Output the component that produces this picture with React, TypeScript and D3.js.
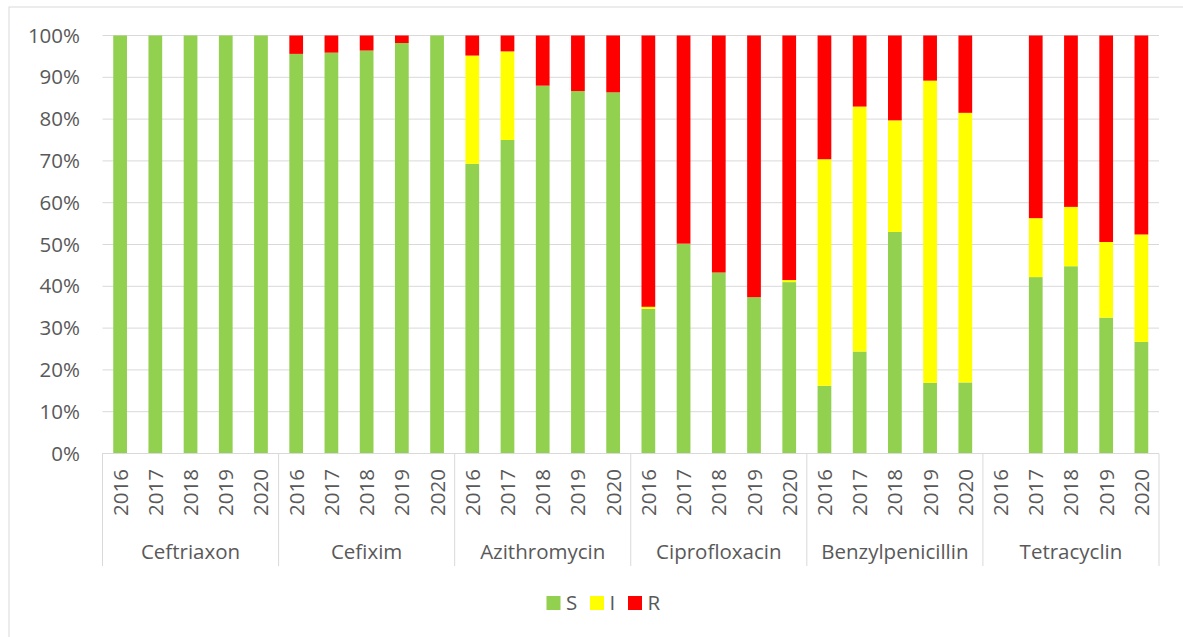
import React from 'react';
import * as d3 from 'd3';

const antibiotics = ['Ceftriaxon', 'Cefixim', 'Azithromycin', 'Ciprofloxacin', 'Benzylpenicillin', 'Tetracyclin'];
const years = ['2016', '2017', '2018', '2019', '2020'];

// per antibiotic, per year (%), order follows years
const sValues = [
  [100, 100, 100, 100, 100],
  [95.6, 95.9, 96.4, 98.2, 100],
  [69.3, 75.0, 88.0, 86.7, 86.4],
  [34.6, 50.2, 43.3, 37.4, 41.0],
  [16.2, 24.4, 53.0, 16.9, 17.0],
  [0, 42.2, 44.8, 32.5, 26.7],
];
const iValues = [
  [0, 0, 0, 0, 0],
  [0, 0, 0, 0, 0],
  [25.9, 21.2, 0, 0, 0],
  [0.5, 0, 0, 0, 0.5],
  [54.2, 58.6, 26.7, 72.3, 64.5],
  [0, 14.1, 14.2, 18.1, 25.7],
];
const rValues = [
  [0, 0, 0, 0, 0],
  [4.4, 4.1, 3.6, 1.8, 0],
  [4.8, 3.8, 12.0, 13.3, 13.6],
  [64.9, 49.8, 56.7, 62.6, 58.5],
  [29.6, 17.0, 20.3, 10.8, 18.5],
  [0, 43.7, 41.0, 49.4, 47.6],
];
const seriesNames = ['S', 'I', 'R'];
const seriesColors = ['#92D050', '#FFFF00', '#FF0000'];
const yTicks = [0, 10, 20, 30, 40, 50, 60, 70, 80, 90, 100];

const W = 1183;
const H = 637;
const left = 102.5;
const right = 1159;
const top = 35.5;
const bottom = 453.5;
const font = 'Open Sans, Liberation Sans, sans-serif';
const fs = 20.5;
const textColor = '#595959';
const gridColor = '#d9d9d9';

export default function App() {
  const keys = antibiotics.flatMap((a) => years.map((y) => `${a}|${y}`));
  const x = d3.scaleBand().domain(keys).range([left, right]).paddingInner(0.61).paddingOuter(0.305);
  const step = x.step();
  const y = d3.scaleLinear().domain([0, 100]).range([bottom, top]);

  const rows = antibiotics.flatMap((a, ai) =>
    years.map((yr, yi) => ({
      key: `${a}|${yr}`,
      year: yr,
      vals: [sValues[ai][yi], iValues[ai][yi], rValues[ai][yi]],
    }))
  );

  const groupLeft = (ai: number) => (x(`${antibiotics[ai]}|${years[0]}`) ?? 0) - (step - x.bandwidth()) / 2;
  const groupRight = (ai: number) =>
    (x(`${antibiotics[ai]}|${years[years.length - 1]}`) ?? 0) + x.bandwidth() + (step - x.bandwidth()) / 2;

  const legendX = [546.5, 590, 628];

  return (
    <svg width={W} height={H} style={{ position: 'absolute', left: 0, top: 0 }}>
      <rect x={0} y={0} width={W} height={H} fill="#fff" />
      <rect x={9} y={7} width={W + 20} height={H + 20} fill="#fff" stroke={gridColor} strokeWidth={1} />

      {yTicks.map((t) => (
        <g key={t}>
          <line x1={left} x2={right} y1={y(t)} y2={y(t)} stroke={gridColor} strokeWidth={1} />
          <text x={80} y={y(t)} dy="0.35em" textAnchor="end" fontFamily={font} fontSize={fs} fill={textColor}>
            {t}%
          </text>
        </g>
      ))}

      {rows.map((r) => {
        let acc = 0;
        return (
          <g key={r.key}>
            {r.vals.map((v, si) => {
              const y0 = acc;
              acc += v;
              if (v <= 0) return null;
              return (
                <rect
                  key={si}
                  x={x(r.key)}
                  width={x.bandwidth()}
                  y={y(acc)}
                  height={y(y0) - y(acc)}
                  fill={seriesColors[si]}
                />
              );
            })}
          </g>
        );
      })}

      <line x1={left} x2={right} y1={bottom} y2={bottom} stroke={gridColor} strokeWidth={1} />
      {antibiotics.map((a, ai) => (
        <g key={a}>
          <line x1={groupLeft(ai)} x2={groupLeft(ai)} y1={bottom} y2={566} stroke={gridColor} strokeWidth={1} />
          {ai === antibiotics.length - 1 && (
            <line x1={groupRight(ai)} x2={groupRight(ai)} y1={bottom} y2={566} stroke={gridColor} strokeWidth={1} />
          )}
          <text
            x={(groupLeft(ai) + groupRight(ai)) / 2}
            y={559}
            textAnchor="middle"
            fontFamily={font}
            fontSize={fs}
            fill={textColor}
          >
            {a}
          </text>
        </g>
      ))}
      {rows.map((r) => {
        const cx = (x(r.key) ?? 0) + x.bandwidth() / 2;
        return (
          <text
            key={r.key}
            transform={`translate(${cx + 7.5},469) rotate(-90)`}
            textAnchor="end"
            fontFamily={font}
            fontSize={fs}
            fill={textColor}
          >
            {r.year}
          </text>
        );
      })}

      {seriesNames.map((s, i) => (
        <g key={s}>
          <rect x={legendX[i]} y={596} width={14} height={14} fill={seriesColors[i]} />
          <text x={legendX[i] + 19.5} y={610} fontFamily={font} fontSize={fs} fill={textColor}>
            {s}
          </text>
        </g>
      ))}
    </svg>
  );
}
